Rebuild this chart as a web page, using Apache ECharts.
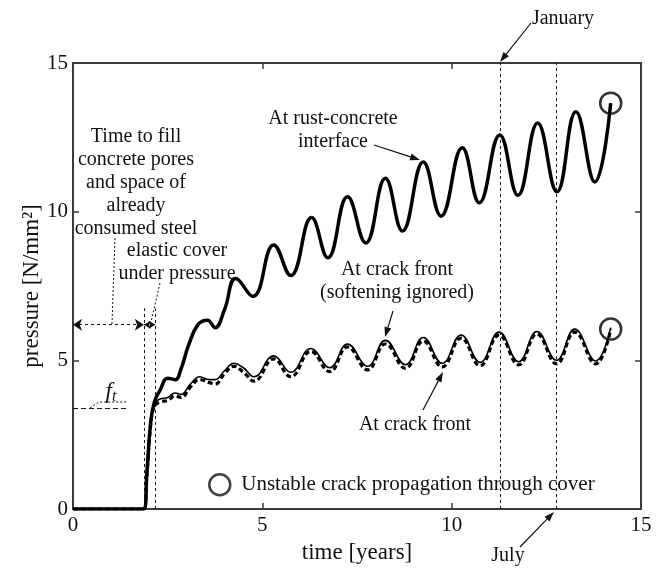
<!DOCTYPE html>
<html>
<head>
<meta charset="utf-8">
<script src="https://cdn.jsdelivr.net/npm/echarts@6/dist/echarts.min.js"></script>
<style>
  html, body { margin: 0; padding: 0; background: #fff; }
  #chart { width: 666px; height: 572px; }
</style>
</head>
<body>
<div id="chart"></div>
<script>
// Pressure at the rust-concrete interface (thick solid)
const rustTime = [0, 1.87, 1.95, 2.05, 2.15, 2.3, 2.5, 2.7, 2.85, 3.05, 3.3, 3.55, 3.75, 4.0, 4.3, 4.75, 5.3, 5.75, 6.3, 6.73, 7.25, 7.73, 8.25, 8.7, 9.25, 9.72, 10.28, 10.73, 11.27, 11.75, 12.27, 12.78, 13.28, 13.78, 14.2];
const rustPressure = [0, 0, 1.2, 2.9, 3.6, 4.0, 4.4, 4.35, 4.7, 5.5, 6.2, 6.35, 6.1, 6.7, 7.75, 7.15, 8.88, 7.85, 9.8, 8.45, 10.5, 8.95, 11.12, 9.35, 11.67, 9.85, 12.15, 10.3, 12.58, 10.55, 12.98, 10.67, 13.36, 11.0, 13.65];

// Pressure at the crack front, softening ignored (thin solid)
const crackTime = [0, 1.87, 1.95, 2.05, 2.15, 2.3, 2.5, 2.7, 2.85, 3.1, 3.35, 3.6, 3.75, 4.0, 4.25, 4.5, 4.78, 5.3, 5.75, 6.28, 6.78, 7.25, 7.78, 8.25, 8.78, 9.25, 9.75, 10.25, 10.75, 11.25, 11.77, 12.25, 12.77, 13.25, 13.8, 14.2];
const crackIgnored = [0, 0, 1.2, 2.9, 3.55, 3.7, 3.75, 3.9, 3.85, 4.2, 4.45, 4.35, 4.35, 4.65, 4.9, 4.75, 4.45, 5.15, 4.6, 5.4, 4.75, 5.55, 4.8, 5.67, 4.85, 5.77, 4.9, 5.85, 4.93, 5.95, 4.95, 5.97, 5.0, 6.05, 4.98, 6.1];
// Pressure at the crack front with softening (thick dashed)
const crackSoftening = [0, 0, 1.1, 2.8, 3.45, 3.6, 3.65, 3.8, 3.75, 4.1, 4.35, 4.25, 4.2, 4.55, 4.8, 4.6, 4.3, 5.05, 4.45, 5.3, 4.62, 5.45, 4.68, 5.55, 4.73, 5.65, 4.78, 5.75, 4.82, 5.85, 4.85, 5.88, 4.88, 5.95, 4.88, 6.05];

// Onset of unstable cracking through the cover
const unstablePoints = [[14.2, 13.65], [14.2, 6.05]];

// Reference times and levels
const januaryTime = 11.28;
const julyTime = 12.76;
const poreFillEnd = 1.87;
const elasticEnd = 2.18;
const phaseArrowLevel = 6.2;
const phaseLineTop = 6.75;
const tensileStrength = 3.4;
const tensileLineEnd = 1.45;

const xTicks = { min: 0, max: 15, interval: 5 };
const yTicks = { min: 0, max: 15, interval: 5 };

const FONT = '"Liberation Serif", "Times New Roman", serif';
const INK = '#111';

const pair = (xs, ys) => xs.map((x, i) => [x, ys[i]]);

const chart = echarts.init(document.getElementById('chart'), null, { renderer: 'canvas' });

const axisCommon = {
  type: 'value',
  axisLine: { show: true, onZero: false, lineStyle: { color: '#3a3a3a', width: 2 } },
  axisTick: { show: true, inside: true, length: 6, lineStyle: { color: '#3a3a3a', width: 1.5 } },
  splitLine: { show: false }
};
const tickLabel = { fontFamily: FONT, fontSize: 21, color: INK };

function arrowGroup(x1, y1, x2, y2, opts) {
  opts = opts || {};
  const len = opts.head || 10, half = opts.half || 3.5;
  const ang = Math.atan2(y2 - y1, x2 - x1);
  const bx = x2 - len * Math.cos(ang), by = y2 - len * Math.sin(ang);
  const nx = -Math.sin(ang) * half, ny = Math.cos(ang) * half;
  return {
    type: 'group',
    silent: true,
    children: [
      { type: 'line', shape: { x1: x1, y1: y1, x2: bx, y2: by },
        style: { stroke: INK, lineWidth: 1.2, lineDash: opts.dash || null } },
      { type: 'polygon', shape: { points: [[x2, y2], [bx + nx, by + ny], [bx - nx, by - ny]] },
        style: { fill: INK } }
    ]
  };
}
function text(str, x, y, extra) {
  return {
    type: 'text', silent: true,
    style: Object.assign({ text: str, x: x, y: y, font: '20px ' + FONT, fill: INK,
      align: 'center', verticalAlign: 'middle', lineHeight: 23 }, extra || {})
  };
}
function dotted(points) {
  return { type: 'polyline', silent: true, shape: { points: points },
    style: { stroke: INK, lineWidth: 1, lineDash: [2, 2], fill: null } };
}

const guideLine = { color: INK, width: 1, type: [3, 3] };

chart.setOption({
  animation: false,
  backgroundColor: '#fff',
  grid: { left: 73, top: 63, right: 25, bottom: 63, containLabel: false },
  xAxis: [
    Object.assign({}, axisCommon, xTicks, { position: 'bottom',
      axisLabel: Object.assign({ margin: 6 }, tickLabel) }),
    Object.assign({}, axisCommon, xTicks, { position: 'top', axisLabel: { show: false } })
  ],
  yAxis: [
    Object.assign({}, axisCommon, yTicks, { position: 'left',
      axisLabel: Object.assign({ margin: 5 }, tickLabel) }),
    Object.assign({}, axisCommon, yTicks, { position: 'right', axisLabel: { show: false } })
  ],
  legend: {
    data: ['Unstable crack propagation through cover'],
    left: 203, top: 468,
    itemWidth: 21, itemHeight: 21, itemGap: 6,
    selectedMode: false,
    itemStyle: { color: 'transparent', borderColor: INK, borderWidth: 2.5 },
    textStyle: { fontFamily: FONT, fontSize: 21, color: INK, padding: [0, 0, 0, 6] }
  },
  series: [
    {
      name: 'At rust-concrete interface', type: 'line', smooth: 0.45,
      data: pair(rustTime, rustPressure), showSymbol: false,
      lineStyle: { color: '#000', width: 3.5 }, z: 4
    },
    {
      name: 'At crack front (softening ignored)', type: 'line', smooth: 0.45,
      data: pair(crackTime, crackIgnored), showSymbol: false,
      lineStyle: { color: '#000', width: 1.6 }, z: 4
    },
    {
      name: 'At crack front', type: 'line', smooth: 0.45,
      data: pair(crackTime, crackSoftening), showSymbol: false,
      lineStyle: { color: '#000', width: 3.2, type: [5, 3] }, z: 3
    },
    {
      name: 'Unstable crack propagation through cover', type: 'scatter',
      data: unstablePoints, symbol: 'circle', symbolSize: 21,
      itemStyle: { color: 'transparent', borderColor: '#000', borderWidth: 2.5 }, z: 5
    },
    {
      name: 'guides', type: 'line', data: [], silent: true,
      markLine: {
        silent: true, animation: false,
        label: { show: false },
        symbol: ['none', 'none'],
        lineStyle: guideLine,
        data: [
          [{ coord: [januaryTime, 0] }, { coord: [januaryTime, 15] }],
          [{ coord: [julyTime, 0] }, { coord: [julyTime, 15] }],
          [{ coord: [poreFillEnd, 0] }, { coord: [poreFillEnd, phaseLineTop] }],
          [{ coord: [elasticEnd, 0] }, { coord: [elasticEnd, phaseLineTop] }],
          [{ coord: [0, tensileStrength], lineStyle: { color: INK, width: 1.2, type: [5, 3] } },
           { coord: [tensileLineEnd, tensileStrength] }],
          [{ coord: [0, phaseArrowLevel], symbol: 'arrow', symbolSize: [9, 9] },
           { coord: [poreFillEnd, phaseArrowLevel], symbol: 'arrow', symbolSize: [9, 9] }],
          [{ coord: [poreFillEnd, phaseArrowLevel], symbol: 'arrow', symbolSize: [6, 7] },
           { coord: [elasticEnd, phaseArrowLevel], symbol: 'arrow', symbolSize: [6, 7] }]
        ]
      }
    }
  ],
  graphic: [
    // axis titles
    text('time [years]', 357, 553, { font: '23px ' + FONT }),
    {
      type: 'text', silent: true, x: 32, y: 286, rotation: Math.PI / 2,
      style: { text: 'pressure [N/mm²]', font: '23px ' + FONT, fill: INK, align: 'center', verticalAlign: 'middle' }
    },
    // annotations
    text('January', 563, 19),
    text('July', 508, 556),
    text('At rust-concrete\ninterface', 333, 130),
    text('Time to fill\nconcrete pores\nand space of\nalready\nconsumed steel', 136, 183),
    text('elastic cover\nunder pressure', 177, 262),
    text('At crack front\n(softening ignored)', 397, 281),
    text('At crack front', 415, 425),
    {
      type: 'text', silent: true,
      style: {
        text: '{f|f}{t|t}', x: 111, y: 392, align: 'center', verticalAlign: 'middle',
        rich: {
          f: { font: 'italic 23px ' + FONT, fill: INK },
          t: { font: 'italic 16px ' + FONT, fill: INK, padding: [10, 0, 0, 0] }
        }
      }
    },
    arrowGroup(531, 23, 500, 62),
    arrowGroup(520, 547, 554, 512),
    arrowGroup(374, 145, 420, 160),
    arrowGroup(393, 311, 385, 337),
    arrowGroup(423, 410, 443, 372),
    dotted([[115, 238], [112, 324]]),
    dotted([[160, 283], [151, 322]]),
    dotted([[90, 408], [99, 402], [127, 402]])
  ]
});
</script>
</body>
</html>
